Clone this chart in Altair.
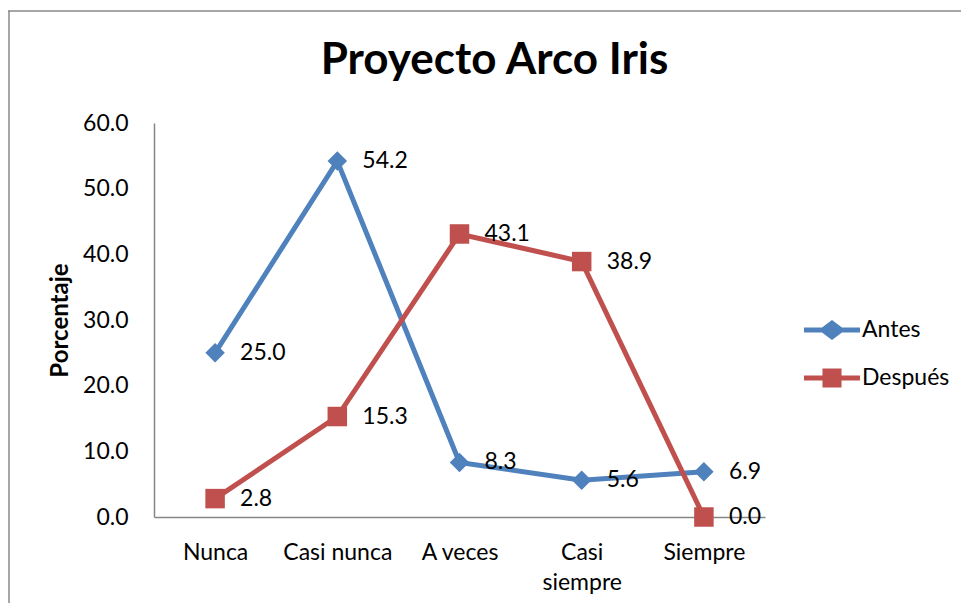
import altair as alt
import pandas as pd

categorias = ["Nunca", "Casi nunca", "A veces", "Casi siempre", "Siempre"]
antes = [25.0, 54.2, 8.3, 5.6, 6.9]
despues = [2.8, 15.3, 43.1, 38.9, 0.0]
series = ["Antes", "Después"]
colores = ["#4F81BD", "#C0504D"]
y_ticks = [0, 10, 20, 30, 40, 50, 60]

FONT = "Lato"

df = pd.DataFrame({
    "cat": categorias * 2,
    "valor": antes + despues,
    "serie": [series[0]] * len(antes) + [series[1]] * len(despues),
})

W, H = 611, 394

x = alt.X("cat:N", sort=categorias, scale=alt.Scale(type="point", padding=0.5),
          axis=alt.Axis(title=None, labelAngle=0, ticks=False, domainColor="#868686",
                        domainWidth=1.5, labelFontSize=23, labelPadding=24,
                        labelFont=FONT, labelColor="#000",
                        labelExpr="datum.label == 'Casi siempre' ? ['Casi', 'siempre'] : datum.label",
                        labelLineHeight=30))
y = alt.Y("valor:Q", scale=alt.Scale(domain=[0, 60], nice=False),
          axis=alt.Axis(title="Porcentaje", values=y_ticks, format=".1f", grid=False,
                        ticks=False, domainColor="#868686", domainWidth=1.5,
                        labelFontSize=23, labelPadding=26, labelFont=FONT, labelColor="#000",
                        titleFont=FONT, titleFontSize=24, titleFontWeight="bold",
                        titleColor="#000", titleX=-94, titleY=197,
                        titleAlign="center", titleBaseline="middle"))

base = alt.Chart(df)

layers = []
shapes = ["diamond", "square"]
for s, c, sh in zip(series, colores, shapes):
    sub = base.transform_filter(alt.datum.serie == s)
    layers.append(sub.mark_line(strokeWidth=5, color=c).encode(x=x, y=y))
for s, c, sh in zip(series, colores, shapes):
    sub = base.transform_filter(alt.datum.serie == s)
    layers.append(sub.mark_point(filled=True, opacity=1, color=c, shape=sh, size=380).encode(x=x, y=y))
for s, c in zip(series, colores):
    sub = base.transform_filter(alt.datum.serie == s)
    layers.append(sub.mark_text(align="left", baseline="middle", dx=25, fontSize=23,
                                font=FONT, color="#000").encode(
        x=x, y=y, text=alt.Text("valor:Q", format=".1f")))

diamond_path = ("M-2,-0.18L-0.714,-0.18L0,-0.714L0.714,-0.18L2,-0.18L2,0.18L0.714,0.18"
                "L0,0.714L-0.714,0.18L-2,0.18Z")
square_path = ("M-2,-0.18L-0.68,-0.18L-0.68,-0.68L0.68,-0.68L0.68,-0.18L2,-0.18L2,0.18"
               "L0.68,0.18L0.68,0.68L-0.68,0.68L-0.68,0.18L-2,0.18Z")

legend_layer = base.transform_filter("false").mark_point(filled=True, opacity=1).encode(
    color=alt.Color("serie:N", scale=alt.Scale(domain=series, range=colores),
                    legend=alt.Legend(title=None, orient="none", legendX=664, legendY=193,
                                      symbolSize=784, labelFontSize=23, labelFont=FONT,
                                      labelColor="#000", labelOffset=16, rowPadding=22,
                                      padding=0, symbolStrokeWidth=0, symbolOpacity=1)),
    shape=alt.Shape("serie:N", scale=alt.Scale(domain=series, range=[diamond_path, square_path])),
)

border_top = alt.Chart(pd.DataFrame({"a": [0]})).mark_rule(color="#888888", strokeWidth=1.5).encode(
    x=alt.value(-146), x2=alt.value(W + 200), y=alt.value(-112))
border_left = alt.Chart(pd.DataFrame({"a": [0]})).mark_rule(color="#888888", strokeWidth=1.5).encode(
    x=alt.value(-145), y=alt.value(-112), y2=alt.value(H + 120))

chart = alt.layer(border_top, border_left, *layers, legend_layer).properties(
    width=W, height=H,
    title=alt.TitleParams("Proyecto Arco Iris", font=FONT, fontSize=44, fontWeight="bold",
                          color="#000", anchor="middle", dx=35, offset=-108,
                          baseline="alphabetic"),
    autosize=alt.AutoSizeParams(type="none"),
    padding={"left": 146, "top": 115, "right": 196, "bottom": 86},
).configure(background="white").configure_view(stroke=None)

chart.save("out.html", embed_options={"renderer": "svg", "actions": False})
